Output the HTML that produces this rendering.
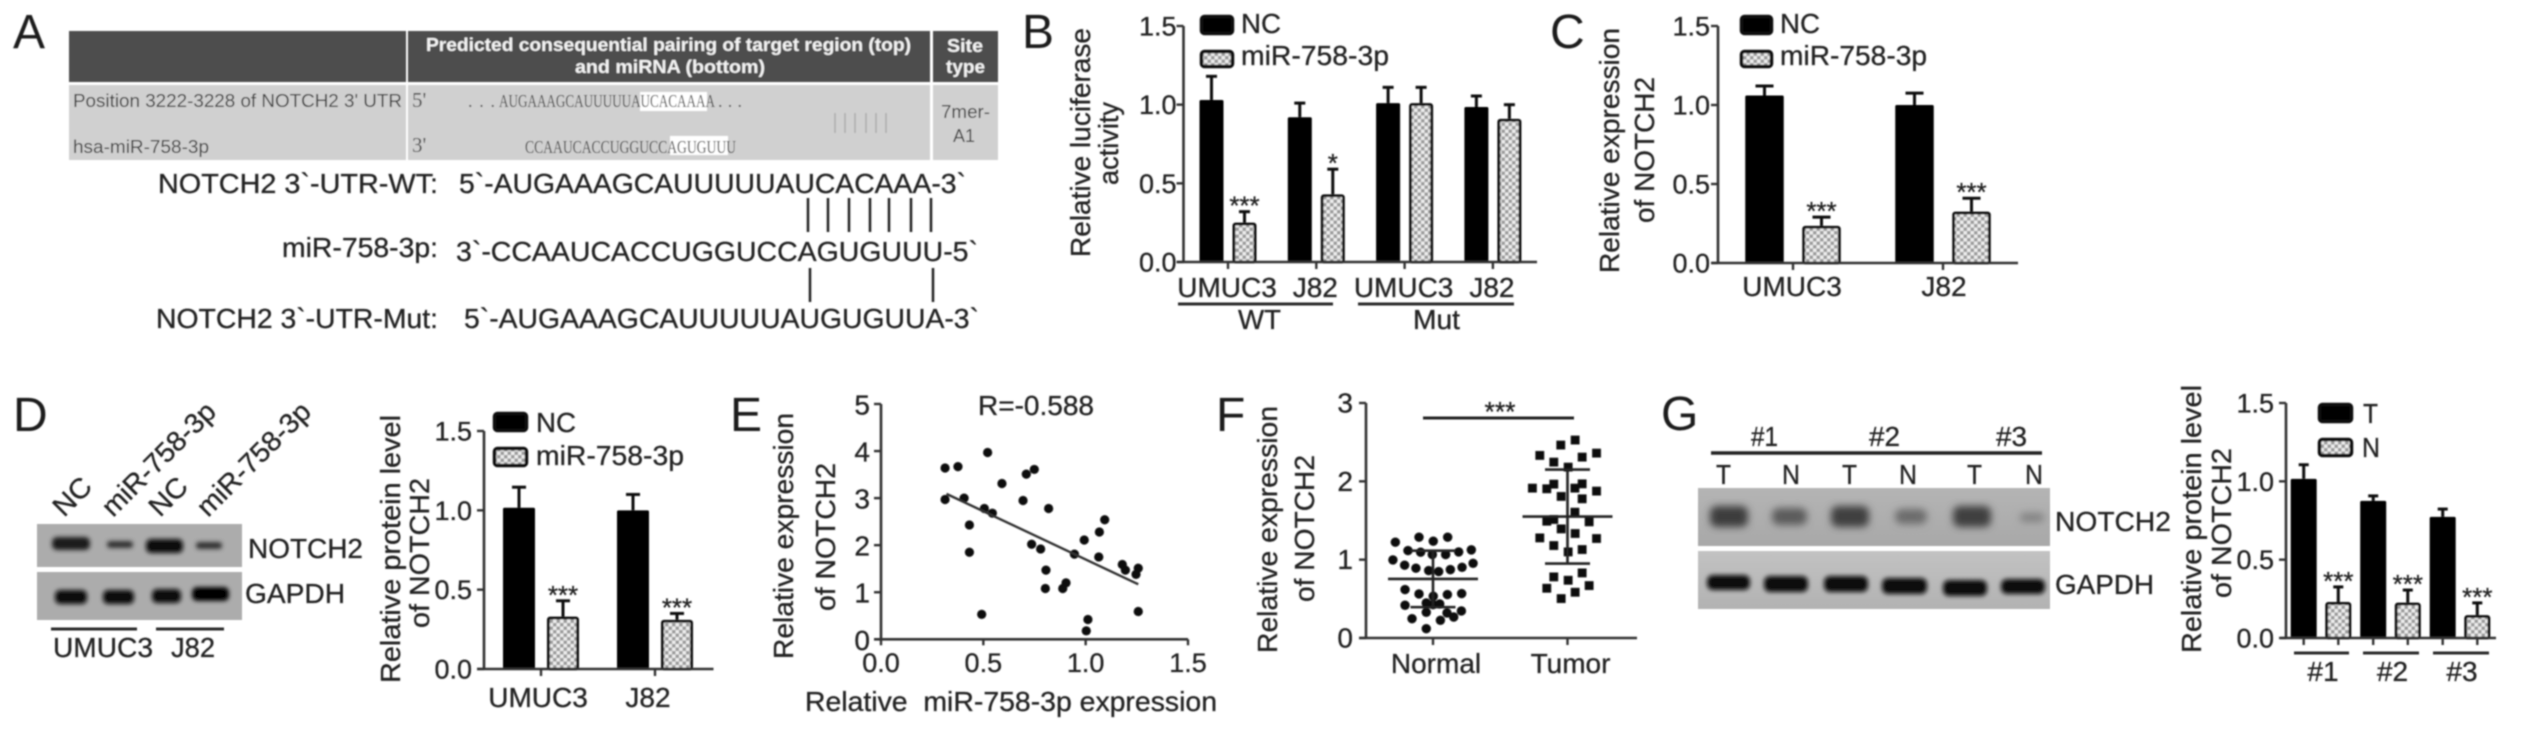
<!DOCTYPE html>
<html lang="en">
<head>
<meta charset="utf-8">
<title>NOTCH2 and miR-758-3p figure</title>
<style>
html,body{margin:0;padding:0;background:#fff;width:2521px;height:731px;overflow:hidden}
svg{display:block}
text{font-family:"Liberation Sans",sans-serif;fill:#222;stroke:#222;stroke-width:.3}
.letter{font-size:48px;fill:#1a1a1a;stroke:none}
.t26{font-size:28px}
.t27{font-size:28px}
.tab{font-size:18.5px;fill:#3c3c3c;stroke:none}
.hd{font-size:18.5px;font-weight:bold;fill:#f4f4f4;stroke:none}
.ser{font-family:"Liberation Serif",serif;font-size:18px;fill:#444;stroke:none}
.prime{font-family:"Liberation Serif",serif;font-size:21px;fill:#444;stroke:none}
.gl{stroke:#2a2a2a;stroke-width:3;fill:none}
.sw{stroke:#111;stroke-width:3.5}
</style>
</head>
<body>
<svg id="figure" xmlns="http://www.w3.org/2000/svg" width="2521" height="731" viewBox="0 0 2521 731">
<defs>
<filter id="soft" filterUnits="userSpaceOnUse" x="0" y="0" width="2521" height="731"><feGaussianBlur stdDeviation="0.85"/></filter>
<filter id="band" x="-30%" y="-80%" width="160%" height="260%"><feGaussianBlur stdDeviation="2.2"/></filter>
<filter id="bandwide" x="-30%" y="-80%" width="160%" height="260%"><feGaussianBlur stdDeviation="3.6"/></filter>
<pattern id="hatch" patternUnits="userSpaceOnUse" width="7" height="7">
<rect width="7" height="7" fill="#ececec"/>
<rect x="0" y="0" width="3.5" height="3.5" fill="#9c9c9c"/>
<rect x="3.5" y="3.5" width="3.5" height="3.5" fill="#9c9c9c"/>
</pattern>
<linearGradient id="gel1" x1="0" y1="0" x2="0" y2="1"><stop offset="0" stop-color="#b4b4b4"/><stop offset="1" stop-color="#a8a8a8"/></linearGradient>
<linearGradient id="gel2" x1="0" y1="0" x2="0" y2="1"><stop offset="0" stop-color="#c2c2c2"/><stop offset="1" stop-color="#b2b2b2"/></linearGradient>
</defs>
<g filter="url(#soft)">

<g>
<text class="letter" x="13" y="48">A</text>
<g>
<rect x="69" y="31" width="337" height="51" fill="#4d4d4d"/>
<rect x="408" y="31" width="522" height="51" fill="#4d4d4d"/>
<rect x="933" y="31" width="65" height="51" fill="#4d4d4d"/>
<rect x="69" y="85" width="337" height="75" fill="#d0d0d0"/>
<rect x="408" y="85" width="522" height="75" fill="#d0d0d0"/>
<rect x="933" y="85" width="65" height="75" fill="#d0d0d0"/>
<text class="hd" x="426" y="51" textLength="485" lengthAdjust="spacingAndGlyphs">Predicted consequential pairing of target region (top)</text>
<text class="hd" x="575" y="73" textLength="190" lengthAdjust="spacingAndGlyphs">and miRNA (bottom)</text>
<text class="hd" x="947" y="52" textLength="36" lengthAdjust="spacingAndGlyphs">Site</text>
<text class="hd" x="946" y="73" textLength="39" lengthAdjust="spacingAndGlyphs">type</text>
<text class="tab" x="73" y="107" textLength="329" lengthAdjust="spacingAndGlyphs">Position 3222-3228 of NOTCH2 3' UTR</text>
<text class="tab" x="73" y="153" textLength="136" lengthAdjust="spacingAndGlyphs">hsa-miR-758-3p</text>
<text class="prime" x="412" y="107">5'</text>
<text class="prime" x="412" y="152">3'</text>
<rect x="640" y="92" width="67" height="19" fill="#fff"/>
<rect x="670" y="136" width="58" height="19" fill="#fff"/>
<text class="ser" x="468" y="107" textLength="27">...</text>
<text class="ser" x="499" y="107" textLength="216" lengthAdjust="spacingAndGlyphs">AUGAAAGCAUUUUUAUCACAAAA</text>
<text class="ser" x="718" y="107" textLength="24">...</text>
<text class="ser" x="525" y="153" textLength="211" lengthAdjust="spacingAndGlyphs">CCAAUCACCUGGUCCAGUGUUU</text>
<path d="M835 113V133M845 113V133M855 113V133M866 113V133M876 113V133M886 113V133" stroke="#aaa" stroke-width="1.5" fill="none"/>
<text class="tab" x="941" y="118" textLength="49" lengthAdjust="spacingAndGlyphs">7mer-</text>
<text class="tab" x="953" y="142" textLength="22" lengthAdjust="spacingAndGlyphs">A1</text>
</g>
<g>
<text class="t27" x="158" y="193" textLength="280" lengthAdjust="spacingAndGlyphs">NOTCH2 3`-UTR-WT:</text>
<text class="t27" x="459" y="193" textLength="507" lengthAdjust="spacingAndGlyphs">5`-AUGAAAGCAUUUUUAUCACAAA-3`</text>
<path d="M808 198V232M828 198V232M849 198V232M870 198V232M889 198V232M911 198V232M931 198V232" stroke="#222" stroke-width="2.5" fill="none"/>
<text class="t27" x="282" y="257" textLength="156" lengthAdjust="spacingAndGlyphs">miR-758-3p:</text>
<text class="t27" x="456" y="261" textLength="522" lengthAdjust="spacingAndGlyphs">3`-CCAAUCACCUGGUCCAGUGUUU-5`</text>
<path d="M810 268V302M933 268V302" stroke="#222" stroke-width="2.5" fill="none"/>
<text class="t27" x="156" y="328" textLength="282" lengthAdjust="spacingAndGlyphs">NOTCH2 3`-UTR-Mut:</text>
<text class="t27" x="464" y="328" textLength="515" lengthAdjust="spacingAndGlyphs">5`-AUGAAAGCAUUUUUAUGUGUUA-3`</text>
</g>
</g>

<g>
<text class="letter" x="1022" y="48">B</text>
<text class="t27" transform="translate(1090,257) rotate(-90)" textLength="229" lengthAdjust="spacingAndGlyphs">Relative luciferase</text>
<text class="t27" transform="translate(1118,185) rotate(-90)" textLength="83" lengthAdjust="spacingAndGlyphs">activity</text>
<g id="chart-b"></g>
<rect class="sw" x="1201.5" y="16.5" width="31" height="17" rx="3" fill="#000"/>
<text class="t26" x="1241" y="33" textLength="40" lengthAdjust="spacingAndGlyphs">NC</text>
<rect class="sw" x="1201.5" y="51.5" width="31" height="15" rx="3" fill="url(#hatch)"/>
<text class="t26" x="1241" y="65" textLength="148" lengthAdjust="spacingAndGlyphs">miR-758-3p</text>
<path class="gl" d="M1178 304H1333M1358 304H1514"/>
<text class="t26" x="1238" y="329" textLength="43" lengthAdjust="spacingAndGlyphs">WT</text>
<text class="t26" x="1413" y="329" textLength="47" lengthAdjust="spacingAndGlyphs">Mut</text>
</g>

<g>
<text class="letter" x="1550" y="48">C</text>
<text class="t27" transform="translate(1619,273) rotate(-90)" textLength="245" lengthAdjust="spacingAndGlyphs">Relative expression</text>
<text class="t27" transform="translate(1654,223) rotate(-90)" textLength="146" lengthAdjust="spacingAndGlyphs">of NOTCH2</text>
<g id="chart-c"></g>
<rect class="sw" x="1741.5" y="16.5" width="30" height="17" rx="3" fill="#000"/>
<text class="t26" x="1780" y="33" textLength="40" lengthAdjust="spacingAndGlyphs">NC</text>
<rect class="sw" x="1741.5" y="51.5" width="30" height="15" rx="3" fill="url(#hatch)"/>
<text class="t26" x="1780" y="65" textLength="147" lengthAdjust="spacingAndGlyphs">miR-758-3p</text>
</g>

<g>
<text class="letter" x="13" y="431">D</text>
<g>
<rect x="37" y="524" width="205" height="43" fill="#acacac"/>
<rect x="37" y="572" width="205" height="48" fill="#acacac"/>
<g filter="url(#band)" fill="#1c1c1c">
<rect x="52" y="537" width="38" height="13" rx="5"/>
<rect x="107" y="541" width="26" height="7" rx="3" fill="#333"/>
<rect x="146" y="539" width="37" height="14" rx="5" fill="#0c0c0c"/>
<rect x="196" y="542" width="26" height="7" rx="3" fill="#333"/>
<rect x="55" y="590" width="32" height="14" rx="5" fill="#0c0c0c"/>
<rect x="103" y="590" width="31" height="14" rx="5" fill="#0c0c0c"/>
<rect x="152" y="589" width="29" height="14" rx="5" fill="#0c0c0c"/>
<rect x="192" y="587" width="37" height="14" rx="5" fill="#050505"/>
</g>
<text class="t26" transform="translate(64,518) rotate(-45)" textLength="42" lengthAdjust="spacingAndGlyphs">NC</text>
<text class="t26" transform="translate(113,518) rotate(-45)" textLength="148" lengthAdjust="spacingAndGlyphs">miR-758-3p</text>
<text class="t26" transform="translate(160,518) rotate(-45)" textLength="42" lengthAdjust="spacingAndGlyphs">NC</text>
<text class="t26" transform="translate(208,518) rotate(-45)" textLength="148" lengthAdjust="spacingAndGlyphs">miR-758-3p</text>
<text class="t26" x="248" y="558" textLength="115" lengthAdjust="spacingAndGlyphs">NOTCH2</text>
<text class="t26" x="245" y="603" textLength="100" lengthAdjust="spacingAndGlyphs">GAPDH</text>
<path class="gl" d="M51 629H137M156 629H224"/>
<text class="t26" x="53" y="657" textLength="100" lengthAdjust="spacingAndGlyphs">UMUC3</text>
<text class="t26" x="171" y="657" textLength="44" lengthAdjust="spacingAndGlyphs">J82</text>
</g>
<text class="t27" transform="translate(400,683) rotate(-90)" textLength="268" lengthAdjust="spacingAndGlyphs">Relative protein level</text>
<text class="t27" transform="translate(429,628) rotate(-90)" textLength="150" lengthAdjust="spacingAndGlyphs">of NOTCH2</text>
<g id="chart-d"></g>
<rect class="sw" x="494.5" y="413.5" width="32" height="17" rx="3" fill="#000"/>
<text class="t26" x="536" y="432" textLength="40" lengthAdjust="spacingAndGlyphs">NC</text>
<rect class="sw" x="494.5" y="448.5" width="32" height="17" rx="3" fill="url(#hatch)"/>
<text class="t26" x="536" y="465" textLength="148" lengthAdjust="spacingAndGlyphs">miR-758-3p</text>
</g>

<g>
<text class="letter" x="730" y="431">E</text>
<text class="t27" transform="translate(793,659) rotate(-90)" textLength="246" lengthAdjust="spacingAndGlyphs">Relative expression</text>
<text class="t27" transform="translate(835,611) rotate(-90)" textLength="148" lengthAdjust="spacingAndGlyphs">of NOTCH2</text>
<text class="t27" x="805" y="711" textLength="412" lengthAdjust="spacingAndGlyphs" xml:space="preserve">Relative  miR-758-3p expression</text>
<text class="t27" x="978" y="415" textLength="116" lengthAdjust="spacingAndGlyphs">R=-0.588</text>
<g id="chart-e"></g>
</g>

<g>
<text class="letter" x="1216" y="431">F</text>
<text class="t27" transform="translate(1277,653) rotate(-90)" textLength="247" lengthAdjust="spacingAndGlyphs">Relative expression</text>
<text class="t27" transform="translate(1314,602) rotate(-90)" textLength="147" lengthAdjust="spacingAndGlyphs">of NOTCH2</text>
<g id="chart-f"></g>
<path d="M1423 418H1574" stroke="#222" stroke-width="3" fill="none"/>
<text class="t26" x="1500" y="421" text-anchor="middle" textLength="31" lengthAdjust="spacingAndGlyphs">***</text>
</g>

<g>
<text class="letter" x="1661" y="430">G</text>
<g>
<text class="t26" x="1751" y="446" textLength="27" lengthAdjust="spacingAndGlyphs">#1</text>
<text class="t26" x="1869" y="446" textLength="31" lengthAdjust="spacingAndGlyphs">#2</text>
<text class="t26" x="1996" y="446" textLength="31" lengthAdjust="spacingAndGlyphs">#3</text>
<path d="M1711 453H2042" stroke="#222" stroke-width="3.5" fill="none"/>
<text class="t26" x="1716" y="484" textLength="15" lengthAdjust="spacingAndGlyphs">T</text>
<text class="t26" x="1782" y="484" textLength="18" lengthAdjust="spacingAndGlyphs">N</text>
<text class="t26" x="1842" y="484" textLength="15" lengthAdjust="spacingAndGlyphs">T</text>
<text class="t26" x="1899" y="484" textLength="18" lengthAdjust="spacingAndGlyphs">N</text>
<text class="t26" x="1967" y="484" textLength="15" lengthAdjust="spacingAndGlyphs">T</text>
<text class="t26" x="2025" y="484" textLength="18" lengthAdjust="spacingAndGlyphs">N</text>
<rect x="1698" y="488" width="352" height="58" fill="url(#gel1)"/>
<rect x="1698" y="551" width="352" height="58" fill="url(#gel2)"/>
<g filter="url(#bandwide)">
<rect x="1710" y="506" width="38" height="21" rx="7" fill="#3c3c3c"/>
<rect x="1772" y="508" width="35" height="17" rx="7" fill="#5c5c5c"/>
<rect x="1831" y="506" width="38" height="21" rx="7" fill="#3f3f3f"/>
<rect x="1895" y="509" width="32" height="15" rx="7" fill="#6c6c6c"/>
<rect x="1953" y="506" width="38" height="21" rx="7" fill="#3f3f3f"/>
<rect x="2020" y="513" width="24" height="9" rx="4" fill="#828282"/>
</g>
<g filter="url(#band)" fill="#0a0a0a">
<rect x="1707" y="575" width="43" height="15" rx="6"/>
<rect x="1764" y="576" width="44" height="16" rx="6"/>
<rect x="1824" y="576" width="44" height="16" rx="6"/>
<rect x="1882" y="578" width="45" height="16" rx="6"/>
<rect x="1943" y="580" width="44" height="16" rx="6"/>
<rect x="2001" y="579" width="44" height="15" rx="6"/>
</g>
<text class="t26" x="2055" y="531" textLength="116" lengthAdjust="spacingAndGlyphs">NOTCH2</text>
<text class="t26" x="2055" y="594" textLength="99" lengthAdjust="spacingAndGlyphs">GAPDH</text>
</g>
<text class="t27" transform="translate(2201,653) rotate(-90)" textLength="268" lengthAdjust="spacingAndGlyphs">Relative protein level</text>
<text class="t27" transform="translate(2231,598) rotate(-90)" textLength="150" lengthAdjust="spacingAndGlyphs">of NOTCH2</text>
<g id="chart-g"></g>
<rect class="sw" x="2319.5" y="404.5" width="32" height="17" rx="3" fill="#000"/>
<text class="t26" x="2363" y="423" textLength="15" lengthAdjust="spacingAndGlyphs">T</text>
<rect class="sw" x="2319.5" y="439.5" width="32" height="16" rx="3" fill="url(#hatch)"/>
<text class="t26" x="2362" y="457" textLength="18" lengthAdjust="spacingAndGlyphs">N</text>
<path class="gl" d="M2294 653H2349M2363 653H2419M2433 653H2489"/>
</g>

</g>
</svg>

<script>
// Panel B data
const bCategories = ['UMUC3', 'J82', 'UMUC3', 'J82'];
const bControl = [1.03, 0.92, 1.01, 0.985];
const bControlErr = [0.15, 0.09, 0.10, 0.07];
const bTreated = [0.25, 0.43, 1.01, 0.91];
const bTreatedErr = [0.07, 0.16, 0.10, 0.09];
const bStars = ['***', '*', '', ''];
const barTicks = [0, 0.5, 1, 1.5];

// Panel C data
const cCategories = ['UMUC3', 'J82'];
const cControl = [1.06, 1.0];
const cControlErr = [0.06, 0.075];
const cTreated = [0.235, 0.325];
const cTreatedErr = [0.055, 0.085];
const cStars = ['***', '***'];

// Panel D data
const dCategories = ['UMUC3', 'J82'];
const dControl = [1.016, 1.0];
const dControlErr = [0.13, 0.10];
const dTreated = [0.33, 0.31];
const dTreatedErr = [0.10, 0.04];
const dStars = ['***', '***'];

// Panel E data
const eTicksY = [0, 1, 2, 3, 4, 5];
const eTicksX = [0, 0.5, 1, 1.5];
const eMirna = [0.313, 0.376, 0.521, 0.313, 0.406, 0.432, 0.432, 0.492, 0.505, 0.544, 0.591, 0.694, 0.710, 0.749, 0.736, 0.780, 0.819, 0.806, 0.803, 0.888, 0.904, 0.945, 0.993, 1.064, 1.067, 1.093, 1.011, 1.003, 1.179, 1.194, 1.257, 1.246, 1.257];
const eNotch = [3.64, 3.67, 3.97, 2.97, 3.0, 2.43, 1.85, 0.53, 2.78, 2.68, 3.31, 2.95, 3.51, 3.61, 2.02, 1.92, 2.78, 1.47, 1.08, 1.08, 1.20, 1.81, 2.11, 1.75, 2.28, 2.54, 0.42, 0.18, 1.59, 1.47, 1.51, 1.38, 0.59];
const eFitX = [0.32, 1.257];
const eFitY = [3.09, 1.17];

// Panel F data
const fCategories = ['Normal', 'Tumor'];
const fTicks = [0, 1, 2, 3];
const fNormalPos = [-0.280, -0.104, 0.002, 0.109, -0.186, -0.092, -0.005, 0.094, 0.191, 0.285, -0.298, -0.211, -0.127, -0.032, 0.042, 0.129, 0.216, 0.298, -0.208, -0.104, 0.002, 0.107, 0.213, -0.208, -0.050, 0, 0.050, -0.050, 0.104, 0.211, 0.154, -0.156, 0.055, -0.050];
const fNormalValues = [1.223, 1.287, 1.236, 1.287, 1.116, 1.095, 1.065, 1.065, 1.099, 1.125, 0.997, 0.929, 0.891, 0.861, 0.848, 0.873, 0.903, 0.954, 0.618, 0.562, 0.533, 0.554, 0.567, 0.418, 0.447, 0.426, 0.435, 0.328, 0.320, 0.345, 0.268, 0.247, 0.226, 0.119];
const fTumorPos = [1.057, 0.950, 0.794, 0.898, 1.109, 1.216, 1.005, 0.739, 0.846, 0.898, 1.055, 1.109, 1.216, 0.953, 1.109, 1.055, 0.898, 0.846, 1.161, 0.953, 1.057, 0.794, 1.216, 0.898, 1.109, 1.005, 1.109, 0.898, 1.005, 1.161, 0.846, 1.057, 0.953];
const fTumorValues = [2.527, 2.463, 2.331, 2.245, 2.309, 2.360, 2.181, 1.913, 1.905, 1.964, 1.913, 1.968, 1.875, 1.807, 1.777, 1.606, 1.513, 1.491, 1.483, 1.393, 1.334, 1.278, 1.270, 1.180, 1.129, 1.099, 0.831, 0.780, 0.737, 0.669, 0.635, 0.584, 0.503];
const fMeans = [0.754, 1.55];
const fDeviations = [0.36, 0.60];

// Panel G data
const gCategories = ['#1', '#2', '#3'];
const gControl = [1.016, 0.875, 0.773];
const gControlErr = [0.09, 0.032, 0.05];
const gTreated = [0.23, 0.226, 0.146];
const gTreatedErr = [0.096, 0.08, 0.078];
const gStars = ['***', '***', '***'];

const SVG_NS = 'http://www.w3.org/2000/svg';

function make(tag, props, parent) {
  const node = document.createElementNS(SVG_NS, tag);
  for (const key in props) node.setAttribute(key, props[key]);
  parent.appendChild(node);
  return node;
}

function linear(domain0, range0, domain1, range1) {
  return function (v) { return range0 + (v - domain0) * (range1 - range0) / (domain1 - domain0); };
}

function drawYAxis(g, x, y, ticks, tickLen, gap, drop, fontSize, digits) {
  const axis = make('line', {x1: x, x2: x, y1: y(ticks[ticks.length - 1]), y2: y(ticks[0]), stroke: '#333', 'stroke-width': 2.6}, g);
  
  
  ticks.forEach(function (t) {
    const mark = make('line', {x1: x - tickLen, x2: x, y1: y(t), y2: y(t), stroke: '#333', 'stroke-width': 2.4}, g);
    
    
    const label = make('text', {x: x - gap, y: y(t) + drop, 'text-anchor': 'end', 'font-size': fontSize}, g);
    
    
    label.textContent = t.toFixed(digits);
  });
}

function drawXBase(g, xStart, xEnd, y) {
  const base = make('line', {x1: xStart, x2: xEnd, y1: y, y2: y, stroke: '#333', 'stroke-width': 2.6}, g);
  
  
}

function drawXTick(g, x, y, len) {
  const mark = make('line', {x1: x, x2: x, y1: y, y2: y + len, stroke: '#333', 'stroke-width': 2.4}, g);
  
  
}

function drawBar(g, cx, width, y, value, err, capW, filled) {
  const top = y(value);
  const errTop = y(value + err);
  const whisker = make('line', {x1: cx, x2: cx, y1: top, y2: errTop, stroke: '#111', 'stroke-width': 3}, g);
  
  
  const cap = make('line', {x1: cx - capW / 2, x2: cx + capW / 2, y1: errTop, y2: errTop, stroke: '#111', 'stroke-width': 3}, g);
  
  
  const inset = filled ? 0 : 1.4;
  const bar = make('rect', {x: cx - width / 2 + inset, y: top + inset, width: width - 2 * inset, height: y(0) - top - inset, rx: 1.5, fill: filled ? '#000' : 'url(#hatch)', stroke: filled ? 'none' : '#111', 'stroke-width': 2.8}, g);
  
  
}

function drawBarChart(id, c, categories, control, controlErr, treated, treatedErr, stars) {
  const g = document.getElementById(id);
  const y = linear(0, c.zeroY, 1.5, c.topY);
  const groupX = function (i) { return c.firstX + i * c.stepX; };
  drawYAxis(g, c.axisX, y, barTicks, 7, c.labelGap, 9.5, 27, 1);
  categories.forEach(function (name, i) {
    const cx = groupX(i);
    drawBar(g, cx - c.offset, c.barW, y, control[i], controlErr[i], c.capW, true);
    drawBar(g, cx + c.offset, c.barW, y, treated[i], treatedErr[i], c.capW, false);
    if (c.perBarTicks) {
      drawXTick(g, cx - c.offset, c.zeroY, 7);
      drawXTick(g, cx + c.offset, c.zeroY, 7);
    } else {
      drawXTick(g, cx, c.zeroY, 7);
    }
    const label = make('text', {x: cx + c.labelShift * i + c.labelBase, y: c.labelY, 'text-anchor': 'middle', 'font-size': 28}, g);
    
    
    label.textContent = name;
    if (stars[i]) {
      const star = make('text', {x: cx + c.offset, y: y(treated[i] + treatedErr[i]) - 12 + 15, 'text-anchor': 'middle', 'font-size': 26, fill: '#333'}, g);
      
      
      star.textContent = stars[i];
    }
  });
  drawXBase(g, c.xStart, c.xEnd, c.zeroY);
}

drawBarChart('chart-b', {axisX: 1183.5, zeroY: 262, topY: 26, firstX: 1228, stepX: 88.3, offset: 16.5, barW: 24, capW: 11, xStart: 1177, xEnd: 1537, labelGap: 7, labelY: 297, labelShift: 0, labelBase: -1, perBarTicks: false}, bCategories, bControl, bControlErr, bTreated, bTreatedErr, bStars);
drawBarChart('chart-c', {axisX: 1718, zeroY: 263, topY: 26, firstX: 1793, stepX: 150, offset: 28.5, barW: 38.5, capW: 18, xStart: 1711.5, xEnd: 2018, labelGap: 8, labelY: 296, labelShift: 2, labelBase: -1, perBarTicks: false}, cCategories, cControl, cControlErr, cTreated, cTreatedErr, cStars);
drawBarChart('chart-d', {axisX: 484, zeroY: 669, topY: 431, firstX: 541, stepX: 114, offset: 22, barW: 32, capW: 14, xStart: 477, xEnd: 713.5, labelGap: 12, labelY: 707, labelShift: -4, labelBase: -3, perBarTicks: false}, dCategories, dControl, dControlErr, dTreated, dTreatedErr, dStars);
drawBarChart('chart-g', {axisX: 2286, zeroY: 638, topY: 403, firstX: 2321, stepX: 69.5, offset: 17.3, barW: 26, capW: 10, xStart: 2280.5, xEnd: 2496, labelGap: 12, labelY: 681, labelShift: 0, labelBase: 2, perBarTicks: true}, gCategories, gControl, gControlErr, gTreated, gTreatedErr, gStars);

// Panel E scatter
(function () {
  const g = document.getElementById('chart-e');
  const x = linear(0, 881, 1.5, 1188);
  const y = linear(0, 639.3, 5, 404);
  drawYAxis(g, 881, y, eTicksY, 7, 11, 10.5, 28, 0);
  drawXBase(g, 874, 1188, 639.3);
  eTicksX.forEach(function (t) {
    drawXTick(g, x(t), 639.3, 6);
    const label = make('text', {x: x(t), y: 672, 'text-anchor': 'middle', 'font-size': 27}, g);
    
    
    label.textContent = t.toFixed(1);
  });
  eMirna.forEach(function (v, i) {
    const dot = make('circle', {cx: x(v), cy: y(eNotch[i]), r: 4.6, fill: '#0a0a0a'}, g);
    
    
  });
  const fit = make('line', {x1: x(eFitX[0]), y1: y(eFitY[0]), x2: x(eFitX[1]), y2: y(eFitY[1]), stroke: '#333', 'stroke-width': 2.4}, g);
  
  
})();

// Panel F dot plot
(function () {
  const g = document.getElementById('chart-f');
  const x = linear(0, 1433, 1, 1567.5);
  const y = linear(0, 638, 3, 403);
  drawYAxis(g, 1366, y, fTicks, 7, 13, 9.5, 28, 0);
  drawXBase(g, 1359, 1637, 638);
  fCategories.forEach(function (name, i) {
    drawXTick(g, x(i), 638, 7);
    const label = make('text', {x: x(i) + 3, y: 673, 'text-anchor': 'middle', 'font-size': 28}, g);
    
    
    label.textContent = name;
  });
  fNormalValues.forEach(function (v, i) {
    const dot = make('circle', {cx: x(fNormalPos[i]), cy: y(v), r: 4.7, fill: '#0a0a0a'}, g);
    
    
  });
  fTumorValues.forEach(function (v, i) {
    const square = make('rect', {x: x(fTumorPos[i]) - 4.4, y: y(v) - 4.4, width: 8.8, height: 8.8, fill: '#0a0a0a'}, g);
    
    
  });
  fMeans.forEach(function (mean, i) {
    const sd = fDeviations[i];
    const meanLine = make('line', {x1: x(i) - 45, x2: x(i) + 45, y1: y(mean), y2: y(mean), stroke: '#222', 'stroke-width': 2.6}, g);
    
    
    const stem = make('line', {x1: x(i), x2: x(i), y1: y(mean - sd), y2: y(mean + sd), stroke: '#222', 'stroke-width': 2.6}, g);
    
    
    const capUp = make('line', {x1: x(i) - 22.5, x2: x(i) + 22.5, y1: y(mean + sd), y2: y(mean + sd), stroke: '#222', 'stroke-width': 2.6}, g);
    
    
    const capDown = make('line', {x1: x(i) - 22.5, x2: x(i) + 22.5, y1: y(mean - sd), y2: y(mean - sd), stroke: '#222', 'stroke-width': 2.6}, g);
    
    
  });
})();
</script>
</body>
</html>
